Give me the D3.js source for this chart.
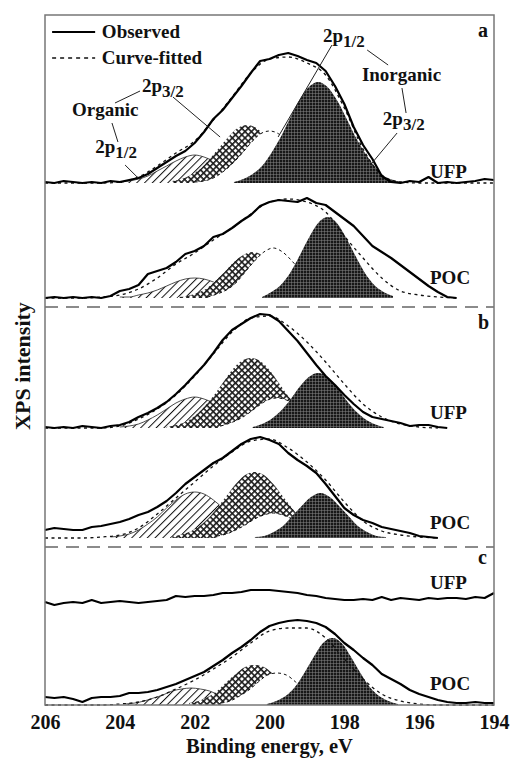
<!DOCTYPE html>
<html>
<head>
<meta charset="utf-8">
<script src="https://cdn.jsdelivr.net/npm/d3@7"></script>
<style>
body { margin: 0; background: #fff; }
text { font-family: "Liberation Serif", "Times New Roman", serif; font-weight: bold; fill: #111; }
</style>
</head>
<body>
<svg id="svg1" width="513" height="760"></svg>
<script>
// energy grids (eV), observed every 0.25, fitted every 0.5
var energy = d3.range(206, 193.9, -0.25);
var energyFit = d3.range(206, 193.9, -0.5);
var xTicks = [206, 204, 202, 200, 198, 196, 194];

// observed spectra (arb. units above each trace's own baseline)
var aUFP_obs = [1,0,2,1,0,1,0,2,1,3, 5,9,15,21,27,32,40,51,64,73, 85,97,110,122,124,128,130,127,123,120, 112,97,79,56,38,24,7,1,0,2, 1,6,0,1,0,1,2,4,3];
var aPOC_obs = [0,1,0,1,0,1,0,2,7,9, 13,24,27,30,36,44,47,52,61,64, 70,77,83,92,96,98,97,96,100,95, 93,86,79,72,62,52,46,40,33,26, 19,12,6,1,0,null,null,null,null];
var bUFP_obs = [1,0,1,0,2,1,0,2,3,6, 11,15,20,26,34,43,53,63,75,88, 98,104,110,114,113,107,97,87,75,63, 52,43,33,24,16,11,9,7,5,2, 3,3,1,0,null,null,null,null,null];
var bPOC_obs = [8,10,9,8,8,11,12,14,16,19, 23,26,31,37,45,54,61,68,75,80, 87,94,99,101,98,94,85,78,72,65, 54,42,30,23,18,15,11,9,7,5, 2,1,0,null,null,null,null,null,null];
var cUFP_obs = [3,0,2,3,2,5,2,3,4,3, 2,3,4,5,9,8,9,9,10,12, 12,13,15,15,15,14,13,12,10,9, 7,6,5,5,6,5,8,5,7,6, 5,7,6,7,7,6,8,7,12];
var cPOC_obs = [8,7,8,6,3,7,8,8,9,12, 12,13,15,18,21,25,29,33,39,45, 52,58,65,73,79,82,84,85,84,82, 78,71,62,55,47,40,31,26,21,15, 11,8,5,3,2,2,3,2,2];

// curve-fitted envelopes
var aUFP_fit = [0,0,0,0,1,6,17,30,42,63, 86,110,124,126,120,108,75,34,8,1, 0,0,0,0,0];
var aPOC_fit = [0,0,0,1,3,9,20,34,45,58, 70,84,96,99,96,86,62,40,20,7, 3,1,0,null,null];
var bUFP_fit = [0,0,0,0,2,9,19,33,52,74, 96,110,112,102,86,66,44,24,11,4, 1,0,null,null,null];
var bPOC_fit = [0,0,0,1,3,10,24,40,56,72, 86,97,99,90,76,58,36,17,7,3, 1,0,null,null,null];
var cPOC_fit = [0,0,0,0,1,3,8,16,25,36, 48,62,74,77,77,67,46,26,11,4, 1,0,0,0,0];

// fitted components [energy, intensity]
var aUFP_org12 = [[204,1],[203.75,2],[203.5,4],[203.25,7],[203,12],[202.75,17],[202.5,22],[202.25,26],[202,28],[201.75,26],[201.5,22],[201.25,17],[201,12],[200.75,7],[200.5,4],[200.25,2],[200,1]];
var aUFP_org32 = [[202.6,2],[202.35,4],[202.1,8],[201.85,14],[201.6,24],[201.35,35],[201.1,46],[200.85,55],[200.6,58],[200.35,55],[200.1,46],[199.85,35],[199.6,24],[199.35,14],[199.1,8],[198.85,4],[198.6,2]];
var aUFP_ino12 = [[202,1],[201.75,2],[201.5,5],[201.25,11],[201,19],[200.75,29],[200.5,40],[200.25,49],[200,52],[199.75,49],[199.5,40],[199.25,29],[199,19],[198.75,11],[198.5,5],[198.25,2],[198,1]];
var aUFP_ino32 = [[200.95,1],[200.7,4],[200.45,9],[200.2,17],[199.95,30],[199.7,46],[199.45,65],[199.2,83],[198.95,96],[198.7,101],[198.45,96],[198.2,83],[197.95,65],[197.7,46],[197.45,30],[197.2,17],[196.95,7],[196.7,3],[196.45,1]];

var aPOC_org12 = [[204,1],[203.75,1],[203.5,3],[203.25,5],[203,8],[202.75,12],[202.5,16],[202.25,19],[202,20],[201.75,19],[201.5,16],[201.25,12],[201,8],[200.75,5],[200.5,3],[200.25,1],[200,1]];
var aPOC_org32 = [[202.45,1],[202.2,2],[201.95,5],[201.7,9],[201.45,17],[201.2,26],[200.95,36],[200.7,43],[200.45,46],[200.2,43],[199.95,36],[199.7,26],[199.45,17],[199.2,9],[198.95,5],[198.7,2],[198.45,1]];
var aPOC_ino12 = [[201.65,1],[201.4,4],[201.15,8],[200.9,15],[200.65,26],[200.4,37],[200.15,46],[199.9,50],[199.65,46],[199.4,37],[199.15,26],[198.9,15],[198.65,8],[198.4,4],[198.15,1]];
var aPOC_ino32 = [[200.2,1],[199.95,6],[199.7,13],[199.45,25],[199.2,42],[198.95,60],[198.7,75],[198.45,81],[198.2,75],[197.95,60],[197.7,42],[197.45,25],[197.2,13],[196.95,6],[196.7,2]];

var bUFP_org12 = [[204,1],[203.75,2],[203.5,4],[203.25,8],[203,13],[202.75,19],[202.5,25],[202.25,29],[202,31],[201.75,29],[201.5,25],[201.25,19],[201,13],[200.75,8],[200.5,4],[200.25,2],[200,1]];
var bUFP_org32 = [[202.75,1],[202.5,3],[202.25,6],[202,12],[201.75,21],[201.5,32],[201.25,45],[201,58],[200.75,67],[200.5,70],[200.25,67],[200,58],[199.75,45],[199.5,32],[199.25,21],[199,12],[198.75,6],[198.5,3],[198.25,1]];
var bUFP_ino12 = [[201.3,2],[201.05,5],[200.8,9],[200.55,15],[200.3,22],[200.05,28],[199.8,30],[199.55,28],[199.3,22],[199.05,15],[198.8,9],[198.55,5],[198.3,2]];
var bUFP_ino32 = [[200.45,1],[200.2,4],[199.95,9],[199.7,17],[199.45,28],[199.2,41],[198.95,51],[198.7,55],[198.45,51],[198.2,41],[197.95,28],[197.7,17],[197.45,9],[197.2,4],[196.95,1]];

var bPOC_org12 = [[204.25,1],[204,2],[203.75,4],[203.5,8],[203.25,14],[203,21],[202.75,30],[202.5,38],[202.25,44],[202,46],[201.75,44],[201.5,38],[201.25,30],[201,21],[200.75,14],[200.5,8],[200.25,4],[200,2]];
var bPOC_org32 = [[202.65,1],[202.4,3],[202.15,6],[201.9,11],[201.65,19],[201.4,30],[201.15,42],[200.9,54],[200.65,63],[200.4,66],[200.15,63],[199.9,54],[199.65,42],[199.4,30],[199.15,19],[198.9,11],[198.65,6],[198.4,3],[198.15,1]];
var bPOC_ino12 = [[201.4,2],[201.15,4],[200.9,8],[200.65,13],[200.4,19],[200.15,23],[199.9,25],[199.65,23],[199.4,19],[199.15,13],[198.9,8],[198.65,4],[198.4,2]];
var bPOC_ino32 = [[200.39,1],[200.14,2],[199.89,6],[199.64,12],[199.39,22],[199.14,32],[198.89,41],[198.64,45],[198.39,41],[198.14,32],[197.89,22],[197.64,12],[197.39,6],[197.14,2],[196.89,1]];

var cPOC_org12 = [[203.85,1],[203.6,2],[203.35,4],[203.1,7],[202.85,10],[202.6,14],[202.35,16],[202.1,17],[201.85,16],[201.6,14],[201.35,10],[201.1,7],[200.85,4],[200.6,2],[200.35,1]];
var cPOC_org32 = [[202.15,2],[201.9,4],[201.65,8],[201.4,14],[201.15,23],[200.9,31],[200.65,38],[200.4,40],[200.15,38],[199.9,31],[199.65,23],[199.4,14],[199.15,8],[198.9,4],[198.65,2]];
var cPOC_ino12 = [[201.3,2],[201.05,4],[200.8,9],[200.55,15],[200.3,23],[200.05,30],[199.8,32],[199.55,30],[199.3,23],[199.05,15],[198.8,9],[198.55,4],[198.3,2]];
var cPOC_ino32 = [[200.07,1],[199.82,4],[199.57,9],[199.32,18],[199.07,32],[198.82,48],[198.57,62],[198.32,67],[198.07,62],[197.82,48],[197.57,32],[197.32,18],[197.07,9],[196.82,4],[196.57,1]];

// vertical offset of each trace in the stacked plot
var traceNames = ["UFP", "POC", "UFP", "POC", "UFP", "POC"];
var traceOffsets = [522, 407, 277, 167, 100, 0];
var separators = [398, 158];
var panelLetters = ["a", "b", "c"];

var svg = d3.select("#svg1");
var margin = {top: 15, right: 19, bottom: 55, left: 45};
var width = +svg.attr("width"),
    height = +svg.attr("height");

var x = d3.scaleLinear().domain([206, 194]).range([margin.left, width - margin.right]);
var y = d3.scaleLinear().domain([0, 690]).range([height - margin.bottom, margin.top]);

// fill patterns
var defs = svg.append("defs");
var hatch = defs.append("pattern").attr("id", "hatch")
    .attr("patternUnits", "userSpaceOnUse").attr("width", 5.5).attr("height", 5.5)
    .attr("patternTransform", "rotate(45)");
hatch.append("rect").attr("width", 5.5).attr("height", 5.5).attr("fill", "#fff");
hatch.append("line").attr("x1", 0.5).attr("y1", 0).attr("x2", 0.5).attr("y2", 5.5)
    .attr("stroke", "#111").attr("stroke-width", 1);

var cross = defs.append("pattern").attr("id", "cross")
    .attr("patternUnits", "userSpaceOnUse").attr("width", 4.5).attr("height", 4.5)
    .attr("patternTransform", "rotate(45)");
cross.append("rect").attr("width", 4.5).attr("height", 4.5).attr("fill", "#fff");
cross.append("path").attr("d", "M0.8,0V4.5M0,0.8H4.5")
    .attr("stroke", "#1a1a1a").attr("stroke-width", 1.6);

var dark = defs.append("pattern").attr("id", "dark")
    .attr("patternUnits", "userSpaceOnUse").attr("width", 3).attr("height", 3);
dark.append("rect").attr("width", 3).attr("height", 3).attr("fill", "#181818");
dark.append("path").attr("d", "M0.3,0V3M0,0.3H3")
    .attr("stroke", "#8a8a8a").attr("stroke-width", 0.6);

var traces = [
  {obs: aUFP_obs, fit: aUFP_fit, comps: [aUFP_org12, aUFP_org32, aUFP_ino12, aUFP_ino32]},
  {obs: aPOC_obs, fit: aPOC_fit, comps: [aPOC_org12, aPOC_org32, aPOC_ino12, aPOC_ino32]},
  {obs: bUFP_obs, fit: bUFP_fit, comps: [bUFP_org12, bUFP_org32, bUFP_ino12, bUFP_ino32]},
  {obs: bPOC_obs, fit: bPOC_fit, comps: [bPOC_org12, bPOC_org32, bPOC_ino12, bPOC_ino32]},
  {obs: cUFP_obs, fit: null, comps: []},
  {obs: cPOC_obs, fit: cPOC_fit, comps: [cPOC_org12, cPOC_org32, cPOC_ino12, cPOC_ino32]}
];
var compFill = ["url(#hatch)", "url(#cross)", "#fff", "url(#dark)"];
var compStroke = ["#222", "none", "#111", "none"];
var compDash = [null, null, "3,3", null];

var plot = svg.append("g").attr("class", "plot");

traces.forEach(function(t, i) {
  var off = traceOffsets[i];
  var area = d3.area()
      .x(function(d) { return x(d[0]); })
      .y0(y(off))
      .y1(function(d) { return y(off + d[1]); })
      .curve(d3.curveMonotoneX);
  var top = d3.line()
      .x(function(d) { return x(d[0]); })
      .y(function(d) { return y(off + d[1]); })
      .curve(d3.curveMonotoneX);

  t.comps.forEach(function(c, k) {
    plot.append("path").datum(c).attr("d", area).attr("fill", compFill[k]);
    if (compStroke[k] != "none") {
      plot.append("path").datum(c).attr("d", top)
          .attr("fill", "none").attr("stroke", compStroke[k])
          .attr("stroke-width", k == 2 ? 1 : 0.8)
          .attr("stroke-dasharray", compDash[k]);
    }
  });

  if (t.fit) {
    var fitLine = d3.line()
        .defined(function(d) { return d != null; })
        .x(function(d, j) { return x(energyFit[j]); })
        .y(function(d) { return y(off + d); })
        .curve(d3.curveMonotoneX);
    plot.append("path").datum(t.fit).attr("d", fitLine)
        .attr("fill", "none").attr("stroke", "#111")
        .attr("stroke-width", 1.3).attr("stroke-dasharray", "3,3.5");
  }

  var obsLine = d3.line()
      .defined(function(d) { return d != null; })
      .x(function(d, j) { return x(energy[j]); })
      .y(function(d) { return y(off + d); });
  plot.append("path").datum(t.obs).attr("d", obsLine)
      .attr("fill", "none").attr("stroke", "#000")
      .attr("stroke-width", 2.2).attr("stroke-linejoin", "round");
});

// trace names
var nameBase = [527, 421, 286, 176, 116, 15];
traceNames.forEach(function(n, i) {
  svg.append("text").attr("x", x(195.71)).attr("y", y(nameBase[i]))
      .attr("font-size", 19).text(n);
});

// panel separators
separators.forEach(function(s) {
  svg.append("line")
      .attr("x1", x(206)).attr("x2", x(194))
      .attr("y1", y(s)).attr("y2", y(s))
      .attr("stroke", "#666").attr("stroke-width", 1.6)
      .attr("stroke-dasharray", "13,8");
});

var letterBase = [668, 376, 141];
panelLetters.forEach(function(l, i) {
  svg.append("text").attr("x", x(194.43)).attr("y", y(letterBase[i]))
      .attr("font-size", 20).text(l);
});

// frame
svg.append("rect")
    .attr("x", x(206)).attr("y", y(690))
    .attr("width", x(194) - x(206)).attr("height", y(0) - y(690))
    .attr("fill", "none").attr("stroke", "#777").attr("stroke-width", 1.5);

// x axis
var xAxis = d3.axisBottom(x).tickValues(xTicks).tickSize(0).tickPadding(10)
    .tickFormat(d3.format("d"));
var gx = svg.append("g")
    .attr("transform", "translate(0," + y(0) + ")")
    .call(xAxis);
gx.select(".domain").remove();
gx.selectAll("text").attr("font-size", 20)
    .attr("font-family", "Liberation Serif, Times New Roman, serif")
    .attr("font-weight", "bold").attr("fill", "#111");

svg.append("text")
    .attr("x", (x(206) + x(194)) / 2).attr("y", 753)
    .attr("text-anchor", "middle").attr("font-size", 20.5)
    .text("Binding energy, eV");

svg.append("text")
    .attr("transform", "translate(30," + 366 + ") rotate(-90)")
    .attr("text-anchor", "middle").attr("font-size", 22)
    .text("XPS intensity");

// legend
var legend = svg.append("g");
legend.append("line").attr("x1", x(205.81)).attr("x2", x(204.66))
    .attr("y1", y(673)).attr("y2", y(673))
    .attr("stroke", "#000").attr("stroke-width", 2.2);
legend.append("text").attr("x", x(204.48)).attr("y", y(667))
    .attr("font-size", 19).text("Observed");
legend.append("line").attr("x1", x(205.81)).attr("x2", x(204.66))
    .attr("y1", y(647)).attr("y2", y(647))
    .attr("stroke", "#111").attr("stroke-width", 1.3).attr("stroke-dasharray", "4,4");
legend.append("text").attr("x", x(204.48)).attr("y", y(641))
    .attr("font-size", 19).text("Curve-fitted");

// peak annotations
function orbital(E, v, sub) {
  var t = svg.append("text").attr("x", x(E)).attr("y", y(v)).attr("font-size", 19);
  t.append("tspan").text("2p");
  t.append("tspan").attr("dy", 5).attr("font-size", 17).text(sub);
}
svg.append("text").attr("x", x(205.28)).attr("y", y(589)).attr("font-size", 19).text("Organic");
orbital(203.41, 613, "3/2");
orbital(204.66, 552, "1/2");
svg.append("text").attr("x", x(197.53)).attr("y", y(624)).attr("font-size", 19).text("Inorganic");
orbital(198.57, 663, "1/2");
orbital(196.97, 580, "3/2");

var leaders = [
  [[204.13, 602], [203.46, 614]],
  [[202.58, 608], [201.32, 568]],
  [[204.21, 582], [204.05, 563]],
  [[203.86, 540], [203.51, 527]],
  [[198.33, 660], [199.77, 568]],
  [[197.39, 655], [196.83, 640]],
  [[196.46, 617], [196.35, 592]],
  [[196.59, 572], [197.26, 542]]
];
leaders.forEach(function(l) {
  svg.append("line")
      .attr("x1", x(l[0][0])).attr("y1", y(l[0][1]))
      .attr("x2", x(l[1][0])).attr("y2", y(l[1][1]))
      .attr("stroke", "#222").attr("stroke-width", 1);
});
</script>
</body>
</html>
